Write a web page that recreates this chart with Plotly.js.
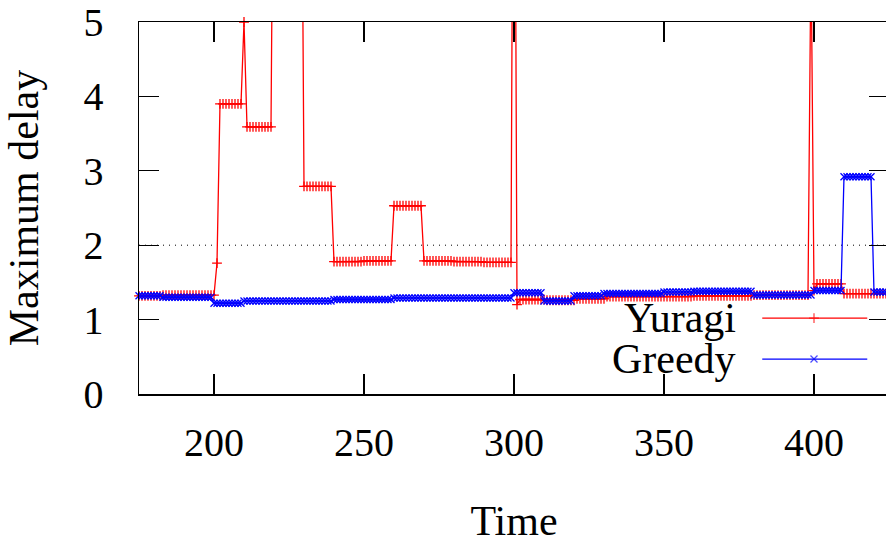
<!DOCTYPE html>
<html>
<head>
<meta charset="utf-8">
<script src="https://cdn.plot.ly/plotly-3.0.1.min.js"></script>
<style>
  html, body { margin: 0; padding: 0; overflow: hidden; background: #fff; }
  #chart { width: 889px; height: 544px; }
</style>
</head>
<body>
<div id="chart"></div>
<script>
// ---- data ----
const startTime = 175;          // first time step shown
const thresholdY = 2;           // dotted reference line
const seriesNames = ["Yuragi", "Greedy"];
const xTickValues = [200, 250, 300, 350, 400];
const yTickValues = [0, 1, 2, 3, 4, 5];

// Yuragi maximum delay, one value per time step (175 ... 424)
const yuragi = [
  1.32,1.32,1.32,1.32,1.32,1.32,1.32,1.32,1.33,1.33,
  1.33,1.33,1.33,1.33,1.33,1.33,1.33,1.33,1.33,1.33,
  1.33,1.33,1.33,1.33,1.33,1.33,1.76,3.90,3.90,3.90,
  3.90,3.90,3.90,3.90,3.90,5.00,3.59,3.59,3.59,3.59,
  3.59,3.59,3.59,3.59,3.59,9.00,9.00,9.00,9.00,9.00,
  9.00,9.00,9.00,9.00,9.00,2.79,2.79,2.79,2.79,2.79,
  2.79,2.79,2.79,2.79,2.79,1.78,1.78,1.78,1.78,1.78,
  1.78,1.78,1.78,1.78,1.78,1.79,1.79,1.79,1.79,1.79,
  1.79,1.79,1.79,1.79,1.79,2.53,2.53,2.53,2.53,2.53,
  2.53,2.53,2.53,2.53,2.53,1.79,1.79,1.79,1.79,1.79,
  1.79,1.79,1.79,1.79,1.79,1.78,1.78,1.78,1.78,1.78,
  1.78,1.78,1.78,1.78,1.78,1.77,1.77,1.77,1.77,1.77,
  1.77,1.77,1.77,1.77,1.77,11.0,1.20,1.27,1.27,1.27,
  1.27,1.27,1.27,1.27,1.27,1.27,1.26,1.26,1.26,1.26,
  1.26,1.26,1.26,1.26,1.26,1.26,1.28,1.28,1.28,1.28,
  1.28,1.28,1.28,1.28,1.28,1.28,1.31,1.31,1.31,1.31,
  1.31,1.31,1.31,1.31,1.31,1.31,1.31,1.31,1.31,1.31,
  1.31,1.31,1.31,1.31,1.31,1.31,1.31,1.31,1.31,1.31,
  1.31,1.31,1.31,1.31,1.31,1.32,1.32,1.32,1.32,1.32,
  1.32,1.32,1.32,1.32,1.32,1.32,1.32,1.32,1.32,1.32,
  1.32,1.32,1.32,1.32,1.32,1.33,1.33,1.33,1.33,1.33,
  1.33,1.33,1.33,1.33,1.33,1.33,1.33,1.33,1.33,1.33,
  1.33,1.33,1.33,1.33,6.00,1.39,1.48,1.48,1.48,1.48,
  1.48,1.48,1.48,1.48,1.48,1.35,1.35,1.35,1.35,1.35,
  1.35,1.35,1.35,1.35,1.35,1.35,1.35,1.35,1.35,1.35
];

// Greedy maximum delay, one value per time step (175 ... 424)
const greedy = [
  1.32,1.32,1.32,1.32,1.32,1.32,1.32,1.32,1.30,1.30,
  1.30,1.30,1.30,1.30,1.30,1.30,1.30,1.30,1.30,1.30,
  1.30,1.30,1.30,1.30,1.30,1.22,1.22,1.22,1.22,1.22,
  1.22,1.22,1.22,1.22,1.22,1.25,1.25,1.25,1.25,1.25,
  1.25,1.25,1.25,1.25,1.25,1.25,1.25,1.25,1.25,1.25,
  1.25,1.25,1.25,1.25,1.25,1.25,1.25,1.25,1.25,1.25,
  1.25,1.25,1.25,1.25,1.25,1.27,1.27,1.27,1.27,1.27,
  1.27,1.27,1.27,1.27,1.27,1.27,1.27,1.27,1.27,1.27,
  1.27,1.27,1.27,1.27,1.27,1.29,1.29,1.29,1.29,1.29,
  1.29,1.29,1.29,1.29,1.29,1.29,1.29,1.29,1.29,1.29,
  1.29,1.29,1.29,1.29,1.29,1.29,1.29,1.29,1.29,1.29,
  1.29,1.29,1.29,1.29,1.29,1.29,1.29,1.29,1.29,1.29,
  1.29,1.29,1.29,1.29,1.29,1.36,1.36,1.36,1.36,1.36,
  1.36,1.36,1.36,1.36,1.36,1.25,1.25,1.25,1.25,1.25,
  1.25,1.25,1.25,1.25,1.25,1.32,1.32,1.32,1.32,1.32,
  1.32,1.32,1.32,1.32,1.32,1.35,1.35,1.35,1.35,1.35,
  1.35,1.35,1.35,1.35,1.35,1.35,1.35,1.35,1.35,1.35,
  1.35,1.35,1.35,1.35,1.35,1.37,1.37,1.37,1.37,1.37,
  1.37,1.37,1.37,1.37,1.37,1.38,1.38,1.38,1.38,1.38,
  1.38,1.38,1.38,1.38,1.38,1.38,1.38,1.38,1.38,1.38,
  1.38,1.38,1.38,1.38,1.38,1.33,1.33,1.33,1.33,1.33,
  1.33,1.33,1.33,1.33,1.33,1.33,1.33,1.33,1.33,1.33,
  1.33,1.33,1.33,1.33,1.33,1.39,1.39,1.39,1.39,1.39,
  1.39,1.39,1.39,1.39,1.39,2.92,2.92,2.92,2.92,2.92,
  2.92,2.92,2.92,2.92,2.92,1.37,1.37,1.37,1.37,1.37
];

const time = yuragi.map((_, i) => startTime + i);

// ---- styling ----
const FONT = "Liberation Serif, Times New Roman, serif";
const RED = "#ff0000";
const BLUE = "#0000ff";

const yuragiTrace = {
  x: time, y: yuragi, type: "scatter", mode: "lines+markers",
  name: seriesNames[0], showlegend: false, cliponaxis: false,
  line: { color: RED, width: 1.3 },
  marker: { symbol: "cross-thin", size: 7, color: RED, line: { color: RED, width: 1.3 } }
};
const greedyTrace = {
  x: time, y: greedy, type: "scatter", mode: "lines+markers",
  name: seriesNames[1], showlegend: false, cliponaxis: false,
  line: { color: BLUE, width: 1.3 },
  marker: { symbol: "x-thin", size: 7, color: BLUE, line: { color: BLUE, width: 1.3 } }
};

// gnuplot-style key: label to the left, sample line with one marker in the middle
const key = { textX: 0.799, lineX0: 0.831, lineXm: 0.9, lineX1: 0.971, rows: [0.204, 0.094] };
function keySample(i, color, symbol) {
  return {
    x: [key.lineX0, key.lineXm, key.lineX1], y: [key.rows[i], key.rows[i], key.rows[i]],
    xaxis: "x2", yaxis: "y2", type: "scatter", mode: "lines+markers",
    showlegend: false, cliponaxis: false, hoverinfo: "skip",
    line: { color: color, width: 1.3 },
    marker: { symbol: symbol, size: [0, 7, 0], color: color, line: { color: color, width: 1.3 } }
  };
}

const axisCommon = {
  showline: true, linecolor: "#000", linewidth: 1.5, mirror: "ticks",
  ticks: "inside", ticklen: 20, tickwidth: 1.3, tickcolor: "#000",
  showgrid: false, zeroline: false,
  tickfont: { family: FONT, size: 40, color: "#000" }
};

const layout = {
  width: 889, height: 544,
  margin: { l: 139, r: 0, t: 22, b: 150 },
  paper_bgcolor: "#fff", plot_bgcolor: "#fff",
  showlegend: false,
  font: { family: FONT, color: "#000" },
  xaxis: Object.assign({}, axisCommon, {
    range: [175, 425], tickmode: "array", tickvals: xTickValues,
    ticklabelstandoff: 12,
    title: { text: "Time", font: { family: FONT, size: 42, color: "#000" }, standoff: 46 }
  }),
  yaxis: Object.assign({}, axisCommon, {
    range: [0, 5], tickmode: "array", tickvals: yTickValues,
    ticklabelstandoff: 26,
    title: { text: "Maximum delay", font: { family: FONT, size: 42, color: "#000" }, standoff: 32 }
  }),
  xaxis2: { overlaying: "x", range: [0, 1], visible: false, fixedrange: true },
  yaxis2: { overlaying: "y", range: [0, 1], visible: false, fixedrange: true },
  shapes: [{
    type: "line", xref: "paper", x0: 0, x1: 1, yref: "y", y0: thresholdY, y1: thresholdY,
    line: { color: "#000", width: 1, dash: "1px,5px" }, layer: "below"
  }],
  annotations: seriesNames.map((n, i) => ({
    text: n, xref: "paper", yref: "paper", x: key.textX, y: key.rows[i],
    xanchor: "right", yanchor: "middle", showarrow: false,
    font: { family: FONT, size: 42, color: "#000" }
  }))
};

Plotly.newPlot("chart",
  [yuragiTrace, greedyTrace, keySample(0, RED, "cross-thin"), keySample(1, BLUE, "x-thin")],
  layout, { staticPlot: true, displayModeBar: false });
</script>
</body>
</html>
